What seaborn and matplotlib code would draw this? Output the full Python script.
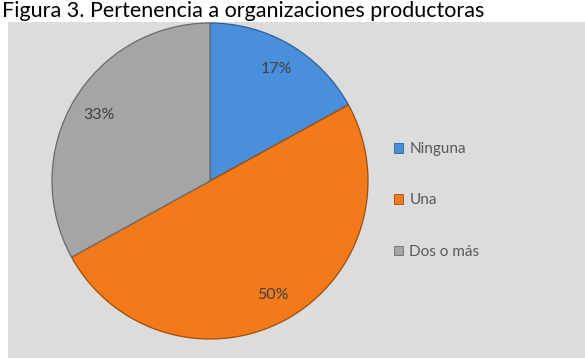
import matplotlib
matplotlib.use("Agg")
import matplotlib.pyplot as plt
import seaborn as sns
from matplotlib.patches import Rectangle, Patch

categories = ["Ninguna", "Una", "Dos o más"]
values = [17, 50, 33]
pct_labels = ["17%", "50%", "33%"]
title = "Figura 3. Pertenencia a organizaciones productoras"

sns.set_theme(style="white")
plt.rcParams['font.family'] = ['Lato', 'DejaVu Sans']

colors = ["#4a8fdc", "#f27a1a", "#a5a5a5"]
edges = ["#2c5f99", "#a04d0a", "#6a6a6a"]

W, H = 585, 358
fig = plt.figure(figsize=(W / 100, H / 100), dpi=100)
fig.patch.set_facecolor("white")

# gray panel
fig.patches.append(Rectangle((8 / W, 0), 1 - 8 / W, (H - 22) / H,
                             transform=fig.transFigure, facecolor="#dcdcdc",
                             edgecolor="none", zorder=-5))

# title
fig.text(2 / W, 1 - 17 / H, title, fontsize=15.5, color="#000000",
         ha="left", va="baseline", family=['Lato', 'DejaVu Sans'], zorder=-4)

cx, cy, r = 210, 181, 158
ax = fig.add_axes([(cx - r) / W, (H - cy - r) / H, 2 * r / W, 2 * r / H], zorder=2)
ax.set_axis_off()
ax.patch.set_alpha(0)

wedges, texts = ax.pie(values, colors=colors, startangle=90, counterclock=False,
                       radius=1, labels=pct_labels, labeldistance=0.82,
                       wedgeprops=dict(linewidth=0.9),
                       textprops=dict(fontsize=11.5, color="#404040", ha="center", va="center"))
for w, e in zip(wedges, edges):
    w.set_edgecolor(e)
ax.set_aspect("auto")
ax.set_xlim(-1, 1)
ax.set_ylim(-1, 1)

handles = [Patch(facecolor=c, edgecolor=e, linewidth=0.6) for c, e in zip(colors, edges)]
leg = fig.legend(handles, categories, loc="center left",
                 bbox_to_anchor=(394 / W, 1 - 200.5 / H), frameon=False,
                 fontsize=11, labelcolor="#595959", handlelength=0.6,
                 handleheight=0.6, handletextpad=0.4, labelspacing=2.45,
                 borderpad=0, borderaxespad=0)

fig.savefig("out.png", dpi=100, facecolor=fig.get_facecolor())
